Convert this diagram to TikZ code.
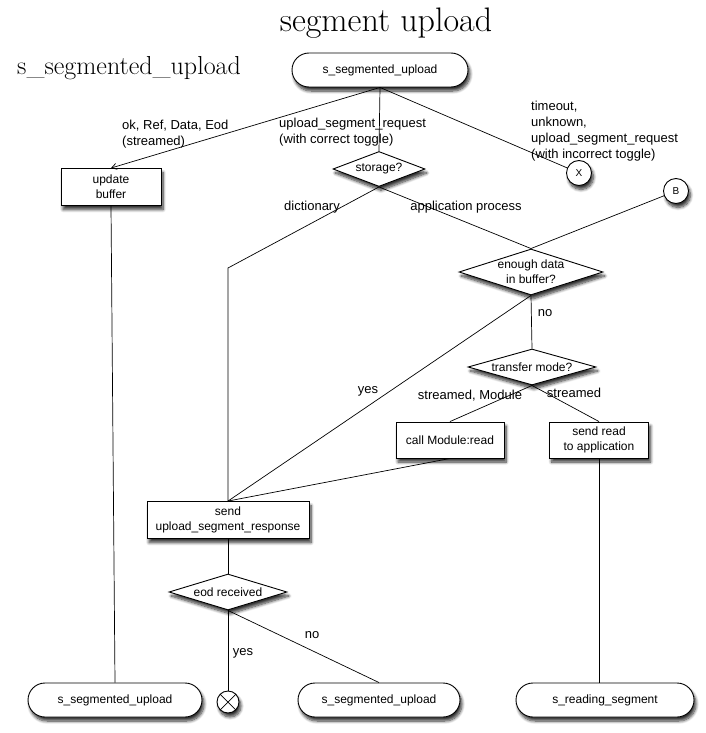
\documentclass[tikz,border=0pt]{standalone}
\usepackage{fontspec}
\setsansfont{Liberation Sans}
\usetikzlibrary{shapes.geometric,shapes.misc,shadows,shadows.blur,arrows.meta}
\begin{document}
\begin{tikzpicture}[x=1pt,y=-1pt,
  every node/.style={font=\sffamily\fontsize{12}{15}\selectfont},
  shadowed/.style={blur shadow={shadow xshift=2pt,shadow yshift=-4pt,shadow opacity=80,shadow blur steps=8,shadow blur radius=3pt}},
  term/.style={rounded rectangle, draw, fill=white, shadowed, minimum height=34pt, inner sep=0pt, line width=0.9pt},
  box/.style={rectangle, draw, fill=white, shadowed, align=center, inner sep=0pt, line width=0.9pt},
  dia/.style={diamond, draw, fill=white, shadowed, align=center, inner sep=-6pt, aspect=3, line width=0.9pt},
  conn/.style={circle, draw, fill=white, shadowed, inner sep=0pt, minimum size=25pt, line width=0.9pt, font=\sffamily\fontsize{10}{10}\selectfont},
  lab/.style={font=\sffamily\fontsize{13}{16}\selectfont, align=left, inner sep=0pt},
  line/.style={draw, line width=0.7pt},
  ttl/.style={font=\rmfamily\fontsize{#1}{#1}\selectfont, inner sep=0pt}
]
\useasboundingbox (0,0) rectangle (705,733);

% titles
\node[ttl=34, anchor=base] (title) at (386,32) {segment upload};
\node[ttl=26, anchor=base west] (state) at (17,75) {s\_segmented\_upload};

% nodes
\node[term, minimum width=176pt] (top) at (380,70) {s\_segmented\_upload};
\node[box, minimum width=100pt, minimum height=37pt] (ub) at (111,187) {update\\buffer};
\node[dia, minimum width=92pt, minimum height=35pt] (sto) at (379,169) {storage?};
\node[conn] (X) at (579,173) {X};
\node[conn] (B) at (676,191) {B};
\node[dia, minimum width=144pt, minimum height=46pt] (enough) at (531,272) {enough data\\in buffer?};
\node[dia, minimum width=128pt, minimum height=36pt] (tm) at (532,367) {transfer mode?};
\node[box, minimum width=108pt, minimum height=36pt] (cm) at (450,440) {call Module:read};
\node[box, minimum width=99pt, minimum height=36pt] (sr) at (599,440) {send read\\to application};
\node[box, minimum width=162pt, minimum height=37pt] (send) at (228,520) {send\\upload\_segment\_response};
\node[dia, minimum width=118pt, minimum height=36pt] (eod) at (228,592) {eod received};
\node[term, minimum width=174pt] (t1) at (115,700) {s\_segmented\_upload};
\node[circle, draw, fill=white, shadowed, inner sep=0pt, minimum size=22pt, line width=0.9pt] (xb) at (228,702) {};
\draw[line width=0.7pt] (xb.north west) -- (xb.south east) (xb.north east) -- (xb.south west);
\node[term, minimum width=162pt] (t3) at (379,700) {s\_segmented\_upload};
\node[term, minimum width=178pt] (t4) at (605,700) {s\_reading\_segment};

% connectors
\coordinate (k1) at (228,268);
\draw[line, -{Straight Barb[length=5pt,width=6pt]}] (top.south) -- (ub.north);
\draw[line] (top.south) -- (sto.north);
\draw[line] (top.south) -- (X);
\draw[line] (sto.south) -- (k1) -- (send.north);
\draw[line] (sto.south) -- (enough.north);
\draw[line] (B) -- (enough.north);
\draw[line] (enough.south) -- (tm.north);
\draw[line] (enough.south) -- (send.north);
\draw[line] (tm.south) -- (cm.north);
\draw[line] (tm.south) -- (sr.north);
\draw[line] (cm.south) -- (send.north);
\draw[line] (sr.south) -- (sr.south |- t4.north);
\draw[line] (ub.south) -- (t1.north);
\draw[line] (send.south) -- (eod.north);
\draw[line] (eod.south) -- (xb);
\draw[line] (eod.south) -- (t3.north);

% labels
\node[lab, anchor=west] (l1) at (122,134) {ok, Ref, Data, Eod\\(streamed)};
\node[lab, anchor=west] (l2) at (279,132) {upload\_segment\_request\\(with correct toggle)};
\node[lab, anchor=west] (l3) at (531,131) {timeout,\\unknown,\\upload\_segment\_request\\(with incorrect toggle)};
\node[lab] (l4) at (312,207) {dictionary};
\node[lab] (l5) at (466,207) {application process};
\node[lab] (l6) at (545,313) {no};
\node[lab] (l7) at (368,391) {yes};
\node[lab] (l8) at (470,396) {streamed, Module};
\node[lab] (l9) at (574,393) {streamed};
\node[lab] (l10) at (312,635) {no};
\node[lab] (l11) at (243,653) {yes};
\end{tikzpicture}
\end{document}
